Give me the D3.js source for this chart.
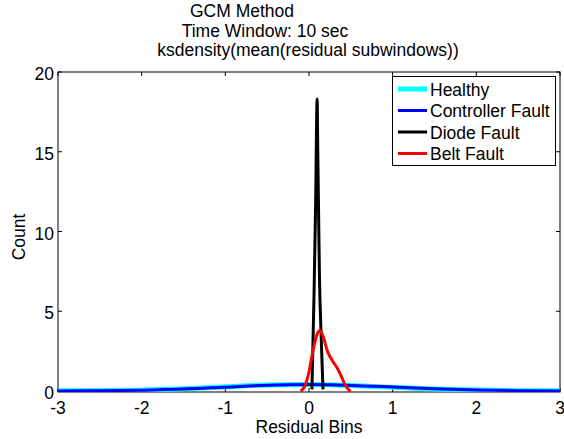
<!DOCTYPE html>
<html><head><meta charset="utf-8">
<script src="https://cdn.jsdelivr.net/npm/d3@7"></script>
<style>body{margin:0;background:#fff}svg{display:block}text{font-family:"Liberation Sans",Arial,sans-serif}</style>
</head><body><svg id="c" width="564" height="439"></svg>
<script>
const xTicks = [-3,-2,-1,0,1,2,3];
const yTicks = [0,5,10,15,20];
const seriesNames = ["Healthy","Controller Fault","Diode Fault","Belt Fault"];
const seriesColors = ["#00ffff","#0000ff","#000000","#ff0000"];
const healthyX = [-3,-2.5,-2,-1.5,-1,-0.5,0,0.5,1,1.5,2,2.5,3];
const healthyY = [0.01,0.03,0.06,0.14,0.26,0.37,0.4,0.34,0.23,0.13,0.06,0.02,0.01];
const controllerX = [-3,-2.5,-2,-1.5,-1,-0.5,0,0.5,1,1.5,2,2.5,3];
const controllerY = [0.0,0.02,0.05,0.12,0.24,0.36,0.4,0.35,0.25,0.14,0.07,0.02,0.0];
const diodeX = [0.035,0.06,0.08,0.097,0.105,0.115,0.125,0.145,0.167];
const diodeY = [0.1,6,12,18.3,15,11,7.2,3.5,0.1];
const beltX = [-0.1,-0.05,0,0.05,0.1,0.13,0.17,0.22,0.28,0.33,0.38,0.43,0.48,0.5];
const beltY = [0,0.3,1.2,2.6,3.6,3.8,3.4,2.5,1.9,1.5,1.0,0.4,0.05,0];

const svg = d3.select("#c");
const L=58, R=560, T=72, B=392;
const FS = 17.5;
const x = d3.scaleLinear().domain([-3,3]).range([L,R]);
const y = d3.scaleLinear().domain([0,20]).range([B-1,T]);

const data = [
  {x:healthyX,y:healthyY,w:5},
  {x:controllerX,y:controllerY,w:3},
  {x:diodeX,y:diodeY,w:3},
  {x:beltX,y:beltY,w:3}
];
const line = d3.line().x(d=>x(d[0])).y(d=>y(d[1])).curve(d3.curveMonotoneX);
svg.append("clipPath").attr("id","cp").append("rect").attr("x",L).attr("y",T-5).attr("width",R-L).attr("height",B-T+5);

// box and ticks
const g = svg.append("g");
g.append("rect").attr("x",L).attr("y",T).attr("width",R-L).attr("height",B-T).attr("fill","none").attr("stroke","#000").attr("stroke-width",1);
xTicks.forEach(t=>{
  g.append("line").attr("x1",x(t)).attr("x2",x(t)).attr("y1",B).attr("y2",B-4).attr("stroke","#000");
  g.append("line").attr("x1",x(t)).attr("x2",x(t)).attr("y1",T).attr("y2",T+4).attr("stroke","#000");
  g.append("text").attr("x",x(t)).attr("y",414).attr("text-anchor","middle").attr("font-size",FS).text(t);
});
yTicks.forEach(t=>{
  g.append("line").attr("x1",L).attr("x2",L+4).attr("y1",y(t)).attr("y2",y(t)).attr("stroke","#000");
  g.append("line").attr("x1",R).attr("x2",R-4).attr("y1",y(t)).attr("y2",y(t)).attr("stroke","#000");
  g.append("text").attr("x",L-4).attr("y",y(t)+8).attr("text-anchor","end").attr("font-size",FS).text(t);
});

const lg = svg.append("g").attr("clip-path","url(#cp)");
data.forEach((s,i)=>{
  lg.append("path").datum(s.x.map((v,j)=>[v,s.y[j]])).attr("d",line)
    .attr("fill","none").attr("stroke",seriesColors[i]).attr("stroke-width",s.w).attr("stroke-linejoin","round");
});

// titles
svg.append("text").attr("x",242).attr("y",17).attr("text-anchor","middle").attr("font-size",FS).text("GCM Method");
svg.append("text").attr("x",265).attr("y",37).attr("text-anchor","middle").attr("font-size",FS).text("Time Window: 10 sec");
svg.append("text").attr("x",308).attr("y",56).attr("text-anchor","middle").attr("font-size",FS).text("ksdensity(mean(residual subwindows))");
svg.append("text").attr("x",309).attr("y",433).attr("text-anchor","middle").attr("font-size",FS).text("Residual Bins");
svg.append("text").attr("transform",`translate(25,237) rotate(-90)`).attr("text-anchor","middle").attr("font-size",FS).text("Count");

// legend
const leg = svg.append("g");
leg.append("rect").attr("x",392.5).attr("y",76.5).attr("width",163).attr("height",89).attr("fill","#fff").attr("stroke","#000");
seriesNames.forEach((n,i)=>{
  const yy = 89 + i*21.5;
  leg.append("line").attr("x1",398).attr("x2",427).attr("y1",yy).attr("y2",yy).attr("stroke",seriesColors[i]).attr("stroke-width",i===0?5:3);
  leg.append("text").attr("x",430).attr("y",yy+6.5).attr("font-size",FS).text(n);
});
</script></body></html>
